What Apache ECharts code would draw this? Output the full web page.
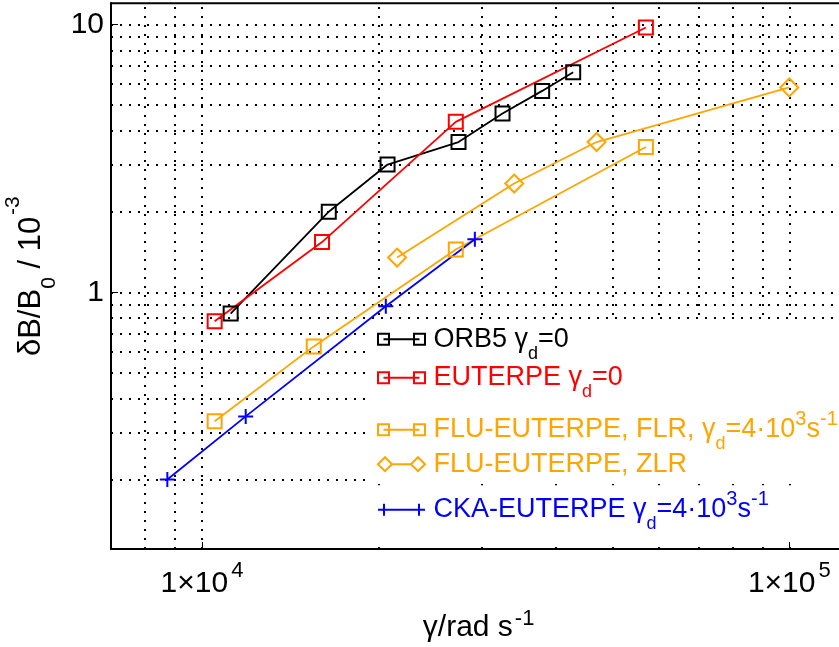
<!DOCTYPE html>
<html>
<head>
<meta charset="utf-8">
<script src="https://cdn.jsdelivr.net/npm/echarts@6/dist/echarts.min.js"></script>
<style>
    html,body{margin:0;padding:0;background:#fff;}
    #chart{width:839px;height:647px;}
</style>
</head>
<body>
<div id="chart"></div>
<script>
    // values: x = gamma (rad/s), y = dB/B0 (10^-3)
    var orb5X = [11190, 16440, 20700, 27340, 32490, 37950, 42860];
    var orb5Y = [0.833, 2.0, 3.0, 3.64, 4.65, 5.65, 6.63];
    var euterpeX = [10510, 16010, 27050, 57000];
    var euterpeY = [0.779, 1.54, 4.33, 9.74];
    var flrX = [10510, 15500, 27050, 57000];
    var flrY = [0.33, 0.628, 1.444, 3.49];
    var zlrX = [21490, 34010, 46980, 100000];
    var zlrY = [1.348, 2.547, 3.64, 5.82];
    var ckaX = [8730, 11870, 20560, 29150];
    var ckaY = [0.2, 0.344, 0.887, 1.578];

    // dotted log grid
    var xGrid = [8000, 9000, 10000, 20000, 30000, 40000, 50000, 60000, 70000, 80000, 90000, 100000];
    var yGrid = [0.2, 0.3, 0.4, 0.5, 0.6, 0.7, 0.8, 0.9, 1, 2, 3, 4, 5, 6, 7, 8, 9, 10];

    var FONT = '"Liberation Sans", Arial, Helvetica, sans-serif';

    var SQ = 'path://M0,0H11V11H0Z M5.5,5.5H41.5 M36,0H47V11H36Z';
    var DI = 'path://M0,7L7,0L14,7L7,14Z M14,7H33 M33,7L40,0L47,7L40,14Z';
    var PL = 'path://M0,6H47 M6,0V12 M41,0V12';
    var PLUS = 'path://M0,6H12 M6,0V12';

    function pairs(xs, ys){
        return xs.map(function(x, i){ return [x, ys[i]]; });
    }
    function isPow(v, p){
        return Math.abs(Math.log(v) / Math.LN10 - p) < 1e-6;
    }

    function lineSeries(name, xs, ys, color, symbol, size){
        return {
            name: name,
            type: 'line',
            data: pairs(xs, ys),
            symbol: symbol,
            symbolSize: size,
            showSymbol: true,
            z: 3,
            lineStyle: {color: color, width: 1.8},
            itemStyle: {color: 'rgba(0,0,0,0)', borderColor: color, borderWidth: 2},
            emphasis: {disabled: true}
        };
    }

    var legendRich = {
        t: {fontSize: 27, lineHeight: 44},
        sub: {fontSize: 18, padding: [29, 0, 0, 0]},
        sup: {fontSize: 20, padding: [0, 0, 21, 0]}
    };

    var legendRows = [
        {name: 'ORB5', color: '#000000', icon: SQ, h: 11, y: 349.3, L: 47, text: '{t|ORB5 γ}{sub|d}{t|=0}'},
        {name: 'EUTERPE', color: '#ff0000', icon: SQ, h: 11, y: 387.7, L: 47, text: '{t|EUTERPE γ}{sub|d}{t|=0}'},
        {name: 'FLR', color: '#ffa500', icon: SQ, h: 11, y: 432.7, L: 47, text: '{t|FLU-EUTERPE, FLR, γ}{sub|d}{t|=4·10}{sup|3}{t|s}{sup|-1}'},
        {name: 'ZLR', color: '#ffa500', icon: DI, h: 14, y: 472.7, L: 44, text: '{t|FLU-EUTERPE, ZLR}'},
        {name: 'CKA', color: '#0000ff', icon: PL, h: 12, y: 512.7, L: 47, text: '{t|CKA-EUTERPE γ}{sub|d}{t|=4·10}{sup|3}{t|s}{sup|-1}'}
    ];

    // one legend per row, each with a white box so the grid is hidden behind the legend
    var legends = legendRows.map(function(r, i){
        var top = r.y - r.L / 2 - 4;
        var padBottom = i === legendRows.length - 1 ? 546.5 - top - 4 - r.L : 4;
        return {
            z: 2,
            left: 369,
            top: top,
            padding: [4, 500, padBottom, 8],
            backgroundColor: '#ffffff',
            selectedMode: false,
            itemWidth: 47,
            itemHeight: r.h,
            data: [{
                name: r.name,
                icon: r.icon,
                itemStyle: {color: 'rgba(0,0,0,0)', borderColor: r.color, borderWidth: 2}
            }],
            formatter: function(){ return r.text; },
            textStyle: {color: r.color, fontSize: 27, padding: [0, 0, 0, 3.5], rich: legendRich}
        };
    });

    var chart = echarts.init(document.getElementById('chart'));
    var option = {
        animation: false,
        backgroundColor: '#ffffff',
        textStyle: {fontFamily: FONT},
        legend: legends,
        grid: {
            left: 111, top: 3.3, right: -7.2, bottom: 98,
            show: true, borderColor: '#000', borderWidth: 2,
            containLabel: false,
            outerBoundsMode: 'none'
        },
        xAxis: {
            type: 'log', logBase: 10, min: 7000, max: 125000,
            z: 5,
            name: '{t|γ/rad s}{sup|-1}',
            nameLocation: 'middle',
            nameGap: 59,
            nameTextStyle: {
                color: '#000', fontSize: 30,
                rich: {t: {fontSize: 30, lineHeight: 39}, sup: {fontSize: 22, verticalAlign: 'top', padding: [0, 0, 0, 2]}}
            },
            axisLine: {show: true, lineStyle: {color: '#000', width: 2}},
            axisTick: {show: true, inside: true, length: 7, lineStyle: {color: '#000', width: 1}},
            axisLabel: {
                margin: 11, color: '#000', fontSize: 30,
                formatter: function(v){
                    if (isPow(v, 4)) return '{t|1×10}{sup|4}';
                    if (isPow(v, 5)) return '{t|1×10}{sup|5}';
                    return '';
                },
                rich: {t: {fontSize: 30, lineHeight: 47}, sup: {fontSize: 22, verticalAlign: 'top', padding: [0, 0, 0, 3]}}
            },
            splitLine: {show: false}
        },
        yAxis: {
            type: 'log', logBase: 10, min: 0.11, max: 12,
            z: 5,
            name: '{t|δB/B}{sub|0}{t| / 10}{sup|-3}',
            nameLocation: 'middle',
            nameRotate: 90,
            nameGap: 38,
            nameTextStyle: {
                color: '#000', fontSize: 31,
                rich: {
                    t: {fontSize: 31, lineHeight: 57},
                    sub: {fontSize: 21, verticalAlign: 'bottom'},
                    sup: {fontSize: 21, verticalAlign: 'top', padding: [0, 0, 0, 2]}
                }
            },
            axisLine: {show: true, lineStyle: {color: '#000', width: 2}},
            axisTick: {show: true, inside: true, length: 7, lineStyle: {color: '#000', width: 1}},
            axisLabel: {
                margin: 7, color: '#000', fontSize: 30,
                formatter: function(v){
                    if (isPow(v, 1)) return '10';
                    if (isPow(v, 0)) return '1';
                    return '';
                }
            },
            splitLine: {show: false}
        },
        series: [
            {
                name: 'grid', type: 'line', data: [], z: 1, silent: true, symbol: 'none',
                markLine: {
                    z: 1,
                    silent: true,
                    symbol: ['none', 'none'],
                    label: {show: false},
                    lineStyle: {color: '#000', width: 2, type: [2, 7]},
                    emphasis: {disabled: true},
                    data: xGrid.map(function(v){ return {xAxis: v}; })
                        .concat(yGrid.map(function(v){ return {yAxis: v}; }))
                }
            },
            lineSeries('ORB5', orb5X, orb5Y, '#000000', 'rect', 14),
            lineSeries('EUTERPE', euterpeX, euterpeY, '#ff0000', 'rect', 14),
            lineSeries('FLR', flrX, flrY, '#ffa500', 'rect', 14),
            lineSeries('ZLR', zlrX, zlrY, '#ffa500', 'diamond', 18),
            lineSeries('CKA', ckaX, ckaY, '#0000ff', PLUS, 15)
        ]
    };
    chart.setOption(option);
    window.addEventListener('resize', chart.resize);
</script>
</body>
</html>
